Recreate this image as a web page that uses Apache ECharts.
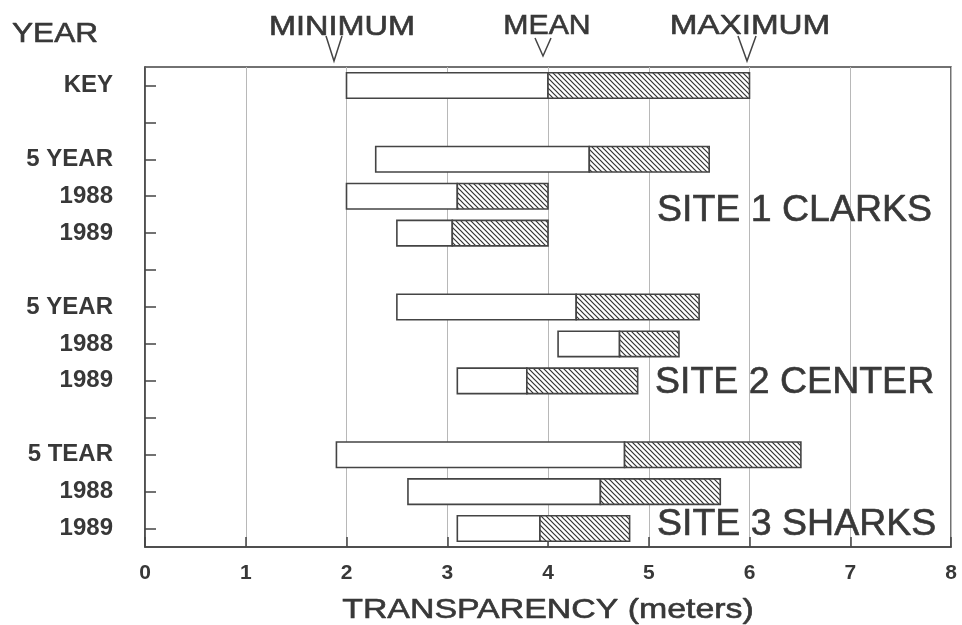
<!DOCTYPE html>
<html>
<head>
<meta charset="utf-8">
<script src="https://cdn.jsdelivr.net/npm/echarts@6/dist/echarts.min.js"></script>
<style>html,body{margin:0;padding:0;background:#fff}#c{width:962px;height:625px}</style>
</head>
<body>
<div id="c"></div>
<script>
// ---- data ----
const categories = ['KEY', '', '5 YEAR', '1988', '1989', '', '5 YEAR', '1988', '1989', '', '5 TEAR', '1988', '1989'];
const minimum = [2.0, null, 2.29, 2.0, 2.5, null, 2.5, 4.1, 3.1, null, 1.9, 2.61, 3.1];
const mean    = [4.0, null, 4.41, 3.1, 3.05, null, 4.28, 4.71, 3.79, null, 4.76, 4.52, 3.92];
const maximum = [6.0, null, 5.6, 4.0, 4.0, null, 5.5, 5.3, 4.89, null, 6.51, 5.71, 4.81];
const xTicks = [0, 1, 2, 3, 4, 5, 6, 7, 8];
const siteLabels = ['SITE 1 CLARKS', 'SITE 2 CENTER', 'SITE 3 SHARKS'];
const keyLabels = ['MINIMUM', 'MEAN', 'MAXIMUM'];

const rows = [];
categories.forEach((c, i) => {
  if (minimum[i] != null) rows.push([i, minimum[i], mean[i], maximum[i]]);
});

// hatch pattern
const pc = document.createElement('canvas');
pc.width = 5; pc.height = 5;
const g = pc.getContext('2d');
g.fillStyle = '#fff'; g.fillRect(0, 0, 5, 5);
g.strokeStyle = '#333'; g.lineWidth = 1.2;
g.beginPath();
g.moveTo(-1, -1); g.lineTo(6, 6);
g.moveTo(-1, 4); g.lineTo(1, 6);
g.moveTo(4, -1); g.lineTo(6, 1);
g.stroke();
const hatch = { image: pc, repeat: 'repeat' };

const TXT = '#383838';
const chart = echarts.init(document.getElementById('c'), null, { renderer: 'canvas' });

const hdr = (text, x, y, size, sx, align, weight) => ({
  type: 'text', x: x, y: y, scaleX: sx, z: 10,
  style: { text: text, x: 0, y: 0, align: align, verticalAlign: 'middle',
    font: (weight || 'normal') + ' ' + size + 'px "Liberation Sans", Arial, sans-serif', fill: TXT,
    stroke: TXT, lineWidth: 0.6 }
});
const vmark = (ax, top, bottom, half) => ({
  type: 'polyline', z: 10,
  shape: { points: [[ax - half, top], [ax, bottom], [ax + half, top]] },
  style: { stroke: '#444', lineWidth: 1.5, fill: null }
});

chart.setOption({
  animation: false,
  backgroundColor: '#fff',
  grid: { left: 145, right: 11, top: 67, bottom: 78, show: true, borderColor: '#444', borderWidth: 1.5, backgroundColor: 'transparent' },
  xAxis: {
    type: 'value', min: 0, max: 8, interval: 1,
    axisLine: { show: true, lineStyle: { color: '#444', width: 1.5 } },
    axisTick: { show: true, inside: true, length: 10, lineStyle: { color: '#444', width: 1.5 } },
    axisLabel: { margin: 16, fontSize: 21, fontWeight: 'bold', color: TXT, fontFamily: '"Liberation Sans", Arial, sans-serif',
      formatter: v => String(xTicks[v] != null ? xTicks[v] : v) },
    splitLine: { show: true, lineStyle: { color: '#b8b8b8', width: 1 } }
  },
  yAxis: {
    type: 'category', data: categories, inverse: true,
    axisLine: { show: true, lineStyle: { color: '#444', width: 1.5 } },
    axisTick: { show: true, inside: true, length: 11, alignWithLabel: true, interval: 0, lineStyle: { color: '#444', width: 1.5 } },
    axisLabel: { margin: 32, fontSize: 24, fontWeight: 'bold', color: TXT, interval: 0, fontFamily: '"Liberation Sans", Arial, sans-serif' },
    splitLine: { show: false }
  },
  series: [{
    type: 'custom',
    data: rows,
    encode: { x: [1, 2, 3], y: 0 },
    renderItem: function (params, api) {
      const idx = api.value(0);
      const a = api.coord([api.value(1), idx]);
      const b = api.coord([api.value(2), idx]);
      const c = api.coord([api.value(3), idx]);
      const h = api.size([0, 1])[1] * 0.69;
      return {
        type: 'group',
        children: [
          { type: 'rect', shape: { x: a[0], y: a[1] - h / 2, width: b[0] - a[0], height: h },
            style: { fill: '#fff', stroke: '#444', lineWidth: 1.6 } },
          { type: 'rect', shape: { x: b[0], y: b[1] - h / 2, width: c[0] - b[0], height: h },
            style: { fill: hatch, stroke: '#444', lineWidth: 1.6 } }
        ]
      };
    }
  }],
  graphic: [
    hdr('YEAR', 12, 35, 27, 1.17, 'left'),
    hdr(keyLabels[0], 342, 28, 27, 1.2, 'center'),
    hdr(keyLabels[1], 547, 27, 27, 1.12, 'center'),
    hdr(keyLabels[2], 750, 27, 27, 1.23, 'center'),
    vmark(334, 36, 61, 8),
    vmark(543, 38, 56, 8),
    vmark(747, 36, 61, 9),
    hdr(siteLabels[0], 657, 211, 37.5, 1, 'left'),
    hdr(siteLabels[1], 655, 383, 37.5, 1, 'left'),
    hdr(siteLabels[2], 657, 525, 37.5, 1, 'left'),
    hdr('TRANSPARENCY (meters)', 548, 610, 28, 1.21, 'center')
  ]
});
</script>
</body>
</html>
